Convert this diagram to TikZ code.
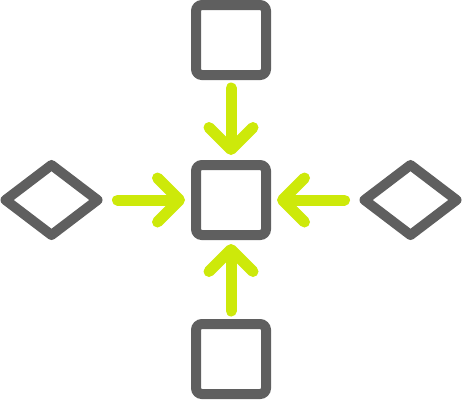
\documentclass[tikz,border=0pt]{standalone}
\usepackage{tikz}
\usetikzlibrary{shapes.geometric,arrows.meta}

\definecolor{boxgray}{RGB}{95,95,95}
\definecolor{limegreen}{RGB}{205,233,10}

\begin{document}
\begin{tikzpicture}[x=1pt, y=-1pt,
        sq/.style={draw=boxgray, line width=10pt, rectangle, rounded corners=6pt,
            minimum size=70pt, inner sep=0pt, outer sep=0pt},
        dm/.style={draw=boxgray, line width=10pt, diamond, line join=round,
            minimum width=92pt, minimum height=70pt, inner sep=0pt, outer sep=0pt},
        flow/.style={draw=limegreen, line width=11pt, line cap=round,
            -{Straight Barb[round, length=22pt, width=44pt]}}]
        \useasboundingbox (0,0) rectangle (462,400);
        \node[sq] (top) at (231, 40) {};
        \node[sq] (hub) at (231, 200) {};
        \node[sq] (bottom) at (231, 359) {};
        \node[dm] (left) at (51.5, 200) {};
        \node[dm] (right) at (410.5, 200) {};
        \draw[flow, shorten <=13pt, shorten >=10pt] (top) -- (hub);
        \draw[flow, shorten <=13pt, shorten >=9pt] (bottom) -- (hub);
        \draw[flow, shorten <=20pt, shorten >=11pt] (left) -- (hub);
        \draw[flow, shorten <=20pt, shorten >=11pt] (right) -- (hub);
    \end{tikzpicture}
\end{document}
